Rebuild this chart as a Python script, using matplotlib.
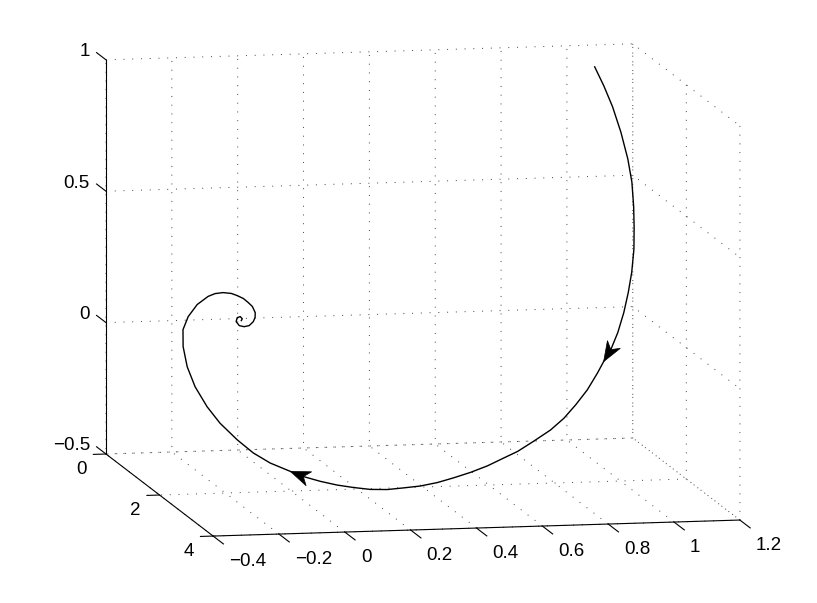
import numpy as np
import matplotlib
matplotlib.use("Agg")
import matplotlib.pyplot as plt
from matplotlib.patches import Polygon
from matplotlib.transforms import IdentityTransform
from mpl_toolkits.mplot3d import proj3d

plt.rcParams['font.family'] = ['Liberation Sans', 'DejaVu Sans']
plt.rcParams['grid.color'] = '0.25'
plt.rcParams['grid.linewidth'] = 0.7
plt.rcParams['grid.linestyle'] = (0, (1, 8))

# trajectory (x, y, z)
xs = [1.003, 1.026, 1.046, 1.063, 1.076, 1.081, 1.079, 1.074, 1.066, 1.052,
      1.035, 1.015, 0.991, 0.965, 0.939, 0.918, 0.883, 0.844, 0.804, 0.760,
      0.705, 0.655, 0.611, 0.561, 0.509, 0.457, 0.408, 0.357, 0.307, 0.259,
      0.210, 0.162, 0.117, 0.070, 0.023, -0.011, -0.064, -0.107, -0.146, -0.187,
      -0.215, -0.240, -0.251, -0.252, -0.241, -0.217, -0.180, -0.137, -0.111, -0.082,
      -0.052, -0.031, -0.008, 0.010, 0.025, 0.037, 0.039, 0.036, 0.026, 0.013,
      0.000, -0.008, -0.004, 0.006, 0.013, 0.011]
ys = [1.00, 1.06, 1.14, 1.24, 1.34, 1.43, 1.52, 1.60, 1.69, 1.78,
      1.86, 1.94, 2.01, 2.07, 2.12, 2.15, 2.20, 2.25, 2.30, 2.34,
      2.38, 2.40, 2.42, 2.43, 2.44, 2.44, 2.44, 2.43, 2.42, 2.40,
      2.37, 2.33, 2.28, 2.23, 2.16, 2.10, 2.00, 1.90, 1.78, 1.64,
      1.50, 1.36, 1.20, 1.06, 0.92, 0.82, 0.70, 0.58, 0.52, 0.46,
      0.40, 0.36, 0.31, 0.27, 0.24, 0.20, 0.17, 0.14, 0.11, 0.08,
      0.06, 0.04, 0.03, 0.02, 0.01, 0.00]
zs = [0.998, 0.929, 0.855, 0.766, 0.671, 0.590, 0.505, 0.432, 0.355, 0.275,
      0.205, 0.136, 0.066, 0.007, -0.034, -0.074, -0.133, -0.184, -0.230, -0.270,
      -0.308, -0.343, -0.365, -0.392, -0.414, -0.433, -0.449, -0.461, -0.467, -0.473,
      -0.473, -0.467, -0.460, -0.448, -0.433, -0.417, -0.391, -0.359, -0.317, -0.263,
      -0.210, -0.144, -0.080, -0.014, 0.039, 0.080, 0.115, 0.135, 0.140, 0.138,
      0.129, 0.117, 0.101, 0.082, 0.064, 0.037, 0.016, -0.002, -0.019, -0.025,
      -0.022, -0.008, 0.006, 0.009, 0.000, -0.008]
arrow_idx = [14, 35]

xticks = [-0.4, -0.2, 0, 0.2, 0.4, 0.6, 0.8, 1, 1.2]
yticks = [0, 2, 4]
zticks = [-0.5, 0, 0.5, 1]
xtlabels = ['\u22120.4', '\u22120.2', '0', '0.2', '0.4', '0.6', '0.8', '1', '1.2']
ytlabels = ['0', '2', '4']
ztlabels = ['\u22120.5', '0', '0.5', '1']

W, H = 817, 603
fig = plt.figure(figsize=(W / 100, H / 100), dpi=100)
ax = fig.add_axes([0, 0, 1, 1], projection='3d', proj_type='ortho')
ax.view_init(elev=8.78, azim=-101.27)
ax.set_box_aspect((536, 547, 398))

ax.plot(xs, ys, zs, color='k', lw=1.0)

ax.set_xlim(-0.4, 1.2)
ax.set_ylim(4, 0)
ax.set_zlim(-0.5, 1)
ax.set_xticks(xticks)
ax.set_yticks(yticks)
ax.set_zticks(zticks)
ax.set_xticklabels([])
ax.set_yticklabels([])
ax.set_zticklabels([])

# z ticks point along y, like the reference
ax.zaxis._get_tickdir = lambda *a, **k: 1

for axis, fin, fout in [(ax.xaxis, 1.2, 0.0), (ax.yaxis, 0.3, 0.0), (ax.zaxis, 0.0, 1.1)]:
    axis.set_pane_color((1, 1, 1, 0))
    axis.line.set_color('k')
    axis.line.set_linewidth(0.8)
    axis._axinfo['tick']['inward_factor'] = fin
    axis._axinfo['tick']['outward_factor'] = fout
    axis._axinfo['tick']['linewidth'] = {True: 0.8, False: 0.5}
    axis._axinfo['tick']['color'] = 'k'

# fit the box onto the target pixel corners
fig.canvas.draw()


def to_2d(x, y, z):
    X, Y, _ = proj3d.proj_transform(x, y, z, ax.get_proj())
    return X, Y


def to_px(x, y, z):
    return ax.transData.transform(to_2d(x, y, z))


tA = np.array([106, H - 454.0])
tB = np.array([740, H - 519.0])
for _ in range(3):
    A = to_px(-0.4, 0, -0.5)
    B = to_px(1.2, 4, -0.5)
    k = np.linalg.norm(tB - tA) / np.linalg.norm(B - A)
    bb = ax.get_position()
    c = np.array([(bb.x0 + bb.x1) / 2 * W, (bb.y0 + bb.y1) / 2 * H])
    side = min(bb.width * W, bb.height * H) * k
    cn = tA - k * (A - c)
    ax.set_position([(cn[0] - side / 2) / W, (cn[1] - side / 2) / H, side / W, side / H])
    fig.canvas.draw()

# tick labels, placed like MATLAB does
fs = 13.5
for v, s in zip(xticks, xtlabels):
    ax.annotate(s, to_2d(v, 4, -0.5), xytext=(16, -25.5), textcoords='offset pixels',
                ha='left', va='center', fontsize=fs, annotation_clip=False)
for v, s in zip(yticks, ytlabels):
    ax.annotate(s, to_2d(-0.4, v, -0.5), xytext=(-19, -15), textcoords='offset pixels',
                ha='right', va='center', fontsize=fs, annotation_clip=False)
for v, s in zip(zticks, ztlabels):
    ax.annotate(s, to_2d(-0.4, 0, v), xytext=(-16, 8), textcoords='offset pixels',
                ha='right', va='center', fontsize=fs, annotation_clip=False)

# arrow heads along the trajectory
for i in arrow_idx:
    p = to_px(xs[i], ys[i], zs[i])
    q = to_px(xs[i - 1], ys[i - 1], zs[i - 1])
    d = (p - q) / np.linalg.norm(p - q)
    n = np.array([-d[1], d[0]])
    L, w, notch = 20, 7.5, 6
    pts = [p, p - L * d + w * n, p - (L - notch) * d, p - L * d - w * n]
    fig.add_artist(Polygon(pts, closed=True, facecolor='k', edgecolor='k',
                           lw=0.5, transform=IdentityTransform()))

fig.savefig('out.png', dpi=100)
